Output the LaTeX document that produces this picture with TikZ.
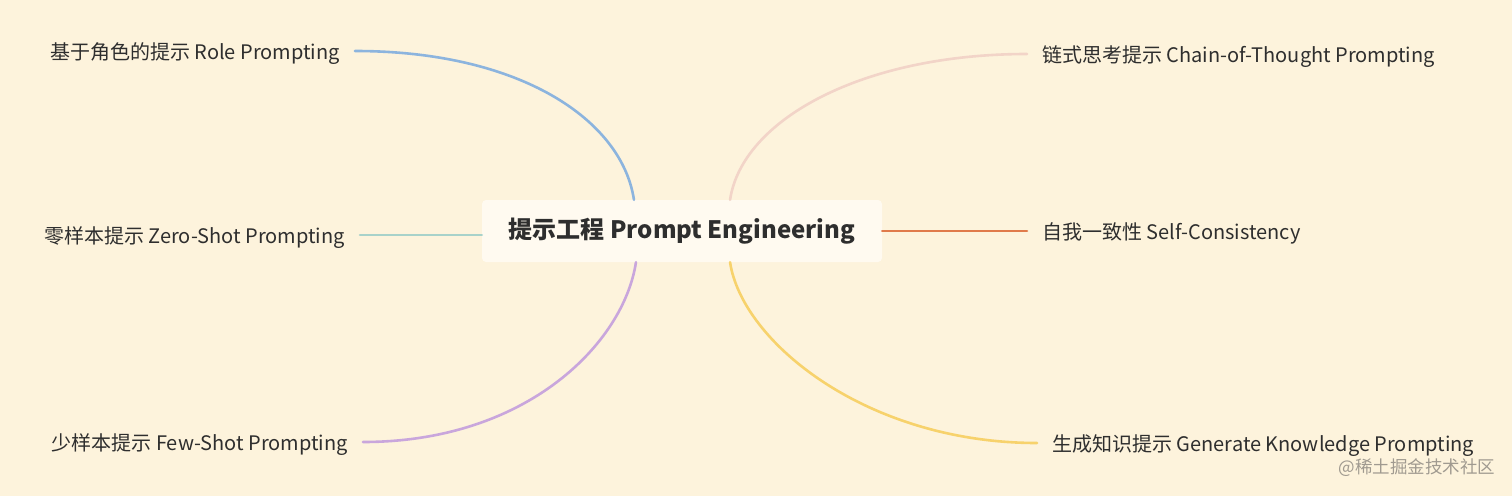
\documentclass[tikz,border=0pt]{standalone}
\usepackage{fontspec}
\setmainfont{Noto Sans CJK SC}
\usetikzlibrary{positioning,calc}
\definecolor{paper}{HTML}{FDF3DC}
\definecolor{rootbg}{HTML}{FFFAF0}
\definecolor{ink}{HTML}{2E2E2E}
\definecolor{mark}{HTML}{A09A90}
\definecolor{roleblue}{HTML}{8CB4DE}
\definecolor{zeroteal}{HTML}{A8D2CA}
\definecolor{fewpurple}{HTML}{C9A6DC}
\definecolor{cotpink}{HTML}{F2D4C8}
\definecolor{selforange}{HTML}{E07A4A}
\definecolor{genyellow}{HTML}{F7D26C}

\begin{document}
\begin{tikzpicture}[x=1pt,y=1pt,
    leaf/.style={inner xsep=15pt, inner ysep=0pt, text=ink,
        font=\fontsize{20}{20}\selectfont, text height=16pt, text depth=0pt},
    branch/.style={line width=2.6pt, line cap=round}]
\fill[paper] (0,0) rectangle (1512,-496);

\node (root) [fill=rootbg, rounded corners=4pt, minimum width=400pt, minimum height=62pt,
    text=ink, font=\fontsize{24}{24}\selectfont\bfseries] at (682,-231) {提示工程 Prompt Engineering};

% left side
\node (role) [leaf, anchor=east] at (355,-51) {基于角色的提示 Role Prompting};
\node (zero) [leaf, anchor=east] at (360,-235) {零样本提示 Zero-Shot Prompting};
\node (few) [leaf, anchor=east] at (363,-442) {少样本提示 Few-Shot Prompting};
% right side
\node (cot) [leaf, anchor=west] at (1027,-54) {链式思考提示 Chain-of-Thought Prompting};
\node (selfc) [leaf, anchor=west] at (1027,-231) {自我一致性 Self-Consistency};
\node (gen) [leaf, anchor=west] at (1037,-443) {生成知识提示 Generate Knowledge Prompting};

\coordinate (lt) at ($(root.north west)!0.38!(root.north east)$);
\coordinate (lb) at ($(root.south west)!0.385!(root.south east)$);
\coordinate (rt) at ($(root.north west)!0.62!(root.north east)$);
\coordinate (rb) at ($(root.south west)!0.62!(root.south east)$);

\draw[branch, roleblue] (lt) .. controls +(-12,80) and +(165,0) .. (role.east);
\draw[branch, zeroteal] (zero.east -| root.west) -- (zero.east);
\draw[branch, fewpurple] (lb) .. controls +(-12,-80) and +(165,0) .. (few.east);
\draw[branch, cotpink] (rt) .. controls +(12,80) and +(-165,0) .. (cot.west);
\draw[branch, selforange] (root.east) -- (selfc.west);
\draw[branch, genyellow] (rb) .. controls +(12,-80) and +(-170,0) .. (gen.west);

\node (mark) [text=mark, font=\fontsize{17.5}{17.5}\selectfont] at (1417,-468) {@稀土掘金技术社区};
\end{tikzpicture}
\end{document}
